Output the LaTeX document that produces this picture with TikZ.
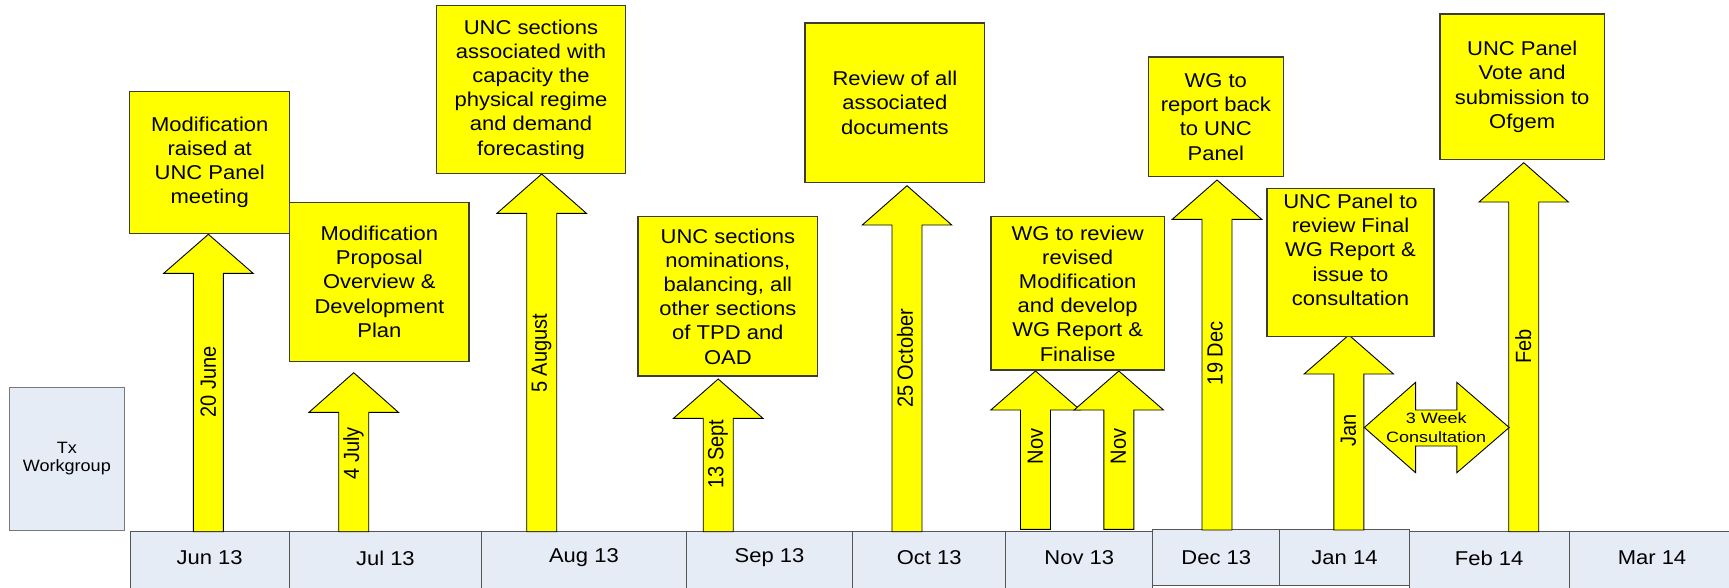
\documentclass[tikz,border=0pt]{standalone}
\usepackage{fontspec}
\setmainfont{Liberation Sans}[FakeStretch=1.1]
\newfontfamily\rotfont{Liberation Sans}[FakeStretch=0.91]
\newfontfamily\consfont{Liberation Sans}[FakeStretch=1.2]
\definecolor{ylw}{RGB}{255,255,0}
\definecolor{cellfill}{RGB}{230,236,246}
\definecolor{cellline}{RGB}{85,85,85}
\definecolor{boxline}{RGB}{60,60,50}
\definecolor{txline}{RGB}{120,120,120}
\tikzset{
  ybox/.style={draw=boxline, fill=ylw, line width=1.3pt, inner sep=0pt, align=center, font=\fontsize{20}{24.2}\selectfont},
  arr/.style={draw=black, fill=ylw, line width=0.9pt, line join=miter},
  cell/.style={draw=cellline, fill=cellfill, line width=1pt, inner sep=0pt},
  celltext/.style={font=\fontsize{20}{24}\selectfont, inner sep=0pt},
  rottext/.style={font=\rotfont\fontsize{22}{24}\selectfont, rotate=90, inner sep=0pt},
}
\newcommand{\uparr}[4]{%
  \draw[arr] ({#1-15},#4) -- ({#1-15},#3) -- ({#1-44.7},#3) -- (#1,#2) -- ({#1+44.7},#3) -- ({#1+15},#3) -- ({#1+15},#4) -- cycle;}
\begin{document}
\begin{tikzpicture}[x=1pt,y=-1pt]
\useasboundingbox (0,0) rectangle (1729,587);
\clip (0,0) rectangle (1729,587);
\fill[white] (0,0) rectangle (1729,587);

% Tx Workgroup
\node[draw=txline, fill=cellfill, line width=1pt, minimum width=115.7pt, minimum height=142.7pt, inner sep=0pt, align=center, font=\fontsize{16.4}{18.7}\selectfont] (tx) at (66.85,458.65) {Tx\\Workgroup};

% timeline cells
\node[cell, minimum width=159.3pt, minimum height=80pt] (jun) at (209.65,571.7) {};
\node[cell, minimum width=192.2pt, minimum height=80pt] (jul) at (385.4,571.7) {};
\node[cell, minimum width=204.8pt, minimum height=80pt] (aug) at (583.9,571.7) {};
\node[cell, minimum width=166.4pt, minimum height=80pt] (sep) at (769.5,571.7) {};
\node[cell, minimum width=153.1pt, minimum height=80pt] (oct) at (929.25,571.7) {};
\node[cell, minimum width=147pt, minimum height=80pt] (nov) at (1079.3,571.7) {};
\node[cell, minimum width=159.7pt, minimum height=80pt] (feb) at (1489.15,571.7) {};
\node[cell, minimum width=166pt, minimum height=80pt] (mar) at (1652,571.7) {};
\node[cell, minimum width=126.9pt, minimum height=56pt] (dec) at (1216.25,557.8) {};
\node[cell, minimum width=129.6pt, minimum height=56pt] (jan) at (1344.5,557.8) {};

\node[celltext] (junt) at (209.65,558) {Jun 13};
\node[celltext] (jult) at (385.4,558) {Jul 13};
\node[celltext] (augt) at (583.9,558) {Aug 13};
\node[celltext] (sept) at (769.5,558) {Sep 13};
\node[celltext] (octt) at (929.25,558) {Oct 13};
\node[celltext] (novt) at (1079.3,558) {Nov 13};
\node[celltext] (dect) at (1216.25,557.5) {Dec 13};
\node[celltext] (jant) at (1344.5,557.5) {Jan 14};
\node[celltext] (febt) at (1489.15,558) {Feb 14};
\node[celltext] (mart) at (1652,558) {Mar 14};

% block arrows
\uparr{208.4}{234.3}{273.3}{531.7}
\uparr{353.7}{372.7}{412.3}{531.7}
\uparr{541.7}{174}{213.3}{531.7}
\uparr{718.2}{379}{418.3}{531.7}
\uparr{907}{185.7}{225}{531.7}
\uparr{1035.5}{371}{410}{529.3}
\uparr{1118.8}{371}{410}{529.3}
\uparr{1217}{180}{219.3}{530}
\uparr{1348.8}{335}{374}{530}
\uparr{1523.7}{162.7}{202}{531.7}

% double arrow
\draw[arr] (1364.3,427.5) -- (1415.6,382.3) -- (1415.6,410) -- (1456.8,410) -- (1456.8,382.3) -- (1509.2,427.5) -- (1456.8,472.7) -- (1456.8,446) -- (1415.6,446) -- (1415.6,472.7) -- cycle;
\node[align=center, inner sep=0pt, font=\consfont\fontsize{15}{18.4}\selectfont] (cons) at (1436.2,427.5) {3 Week\\Consultation};

% arrow labels
\node[rottext] (l1) at (208.3,381.7) {20 June};
\node[rottext] (l2) at (353.5,453.3) {4 July};
\node[rottext] (l3) at (541.7,353.3) {5 August};
\node[rottext] (l4) at (718,454.2) {13 Sept};
\node[rottext] (l5) at (905,358.3) {25 October};
\node[rottext] (l6) at (1035.5,446.3) {Nov};
\node[rottext] (l7) at (1118.5,446.3) {Nov};
\node[rottext] (l8) at (1215,353.3) {19 Dec};
\node[rottext] (l9) at (1348.5,430.5) {Jan};
\node[rottext] (l10) at (1523.3,346.7) {Feb};

% yellow boxes
\node[ybox, minimum width=160pt, minimum height=142pt] (b1) at (209.7,162.3) {Modification\\raised at\\UNC Panel\\meeting};
\node[ybox, minimum width=179.3pt, minimum height=159pt] (b2) at (379.35,281.8) {Modification\\Proposal\\Overview \&\\Development\\Plan};
\node[ybox, minimum width=188.6pt, minimum height=167.6pt] (b3) at (531,89.5) {UNC sections\\associated with\\capacity the\\physical regime\\and demand\\forecasting};
\node[ybox, minimum width=179.7pt, minimum height=159.3pt] (b4) at (727.85,296.35) {UNC sections\\nominations,\\balancing, all\\other sections\\of TPD and\\OAD};
\node[ybox, minimum width=179.7pt, minimum height=159.3pt] (b5) at (894.85,102.65) {Review of all\\associated\\documents};
\node[ybox, minimum width=173.3pt, minimum height=153.3pt] (b6) at (1077.65,293.35) {WG to review\\revised\\Modification\\and develop\\WG Report \&\\Finalise};
\node[ybox, minimum width=135pt, minimum height=119.7pt] (b7) at (1215.8,116.85) {WG to\\report back\\to UNC\\Panel};
\node[ybox, minimum width=167pt, minimum height=148pt] (b8) at (1350.5,262.3) {};
\node[align=center, inner sep=0pt, font=\fontsize{20}{24.2}\selectfont] (b8t) at ([yshift=12.6pt]b8.center) {UNC Panel to\\review Final\\WG Report \&\\issue to\\consultation};
\node[ybox, minimum width=164.3pt, minimum height=145.7pt] (b9) at (1522.15,86.85) {UNC Panel\\Vote and\\submission to\\Ofgem};
\end{tikzpicture}
\end{document}
